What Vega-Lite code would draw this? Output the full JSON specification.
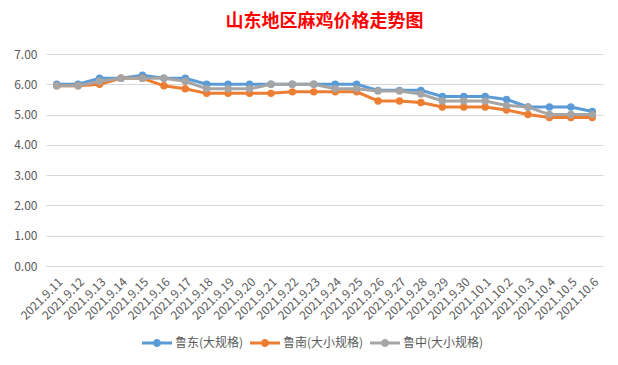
{
  "$schema": "https://vega.github.io/schema/vega-lite/v6.json",
  "width": 557,
  "height": 212,
  "autosize": "none",
  "padding": {"left": 46, "top": 54, "right": 15, "bottom": 99},
  "background": "white",
  "title": {
    "text": "山东地区麻鸡价格走势图",
    "color": "#FF0000",
    "font": "Noto Sans CJK SC",
    "fontSize": 18,
    "fontWeight": "bold",
    "anchor": "middle",
    "offset": 17
  },
  "config": {
    "view": {"stroke": null},
    "axis": {"labelFont": "Noto Sans CJK SC", "labelColor": "#595959", "labelFontSize": 12}
  },
  "data": {
    "values": [
      {"date": "2021.9.11", "series": "鲁东(大规格)", "price": 6.0},
      {"date": "2021.9.12", "series": "鲁东(大规格)", "price": 6.0},
      {"date": "2021.9.13", "series": "鲁东(大规格)", "price": 6.2},
      {"date": "2021.9.14", "series": "鲁东(大规格)", "price": 6.2},
      {"date": "2021.9.15", "series": "鲁东(大规格)", "price": 6.3},
      {"date": "2021.9.16", "series": "鲁东(大规格)", "price": 6.2},
      {"date": "2021.9.17", "series": "鲁东(大规格)", "price": 6.2},
      {"date": "2021.9.18", "series": "鲁东(大规格)", "price": 6.0},
      {"date": "2021.9.19", "series": "鲁东(大规格)", "price": 6.0},
      {"date": "2021.9.20", "series": "鲁东(大规格)", "price": 6.0},
      {"date": "2021.9.21", "series": "鲁东(大规格)", "price": 6.0},
      {"date": "2021.9.22", "series": "鲁东(大规格)", "price": 6.0},
      {"date": "2021.9.23", "series": "鲁东(大规格)", "price": 6.0},
      {"date": "2021.9.24", "series": "鲁东(大规格)", "price": 6.0},
      {"date": "2021.9.25", "series": "鲁东(大规格)", "price": 6.0},
      {"date": "2021.9.26", "series": "鲁东(大规格)", "price": 5.8},
      {"date": "2021.9.27", "series": "鲁东(大规格)", "price": 5.8},
      {"date": "2021.9.28", "series": "鲁东(大规格)", "price": 5.8},
      {"date": "2021.9.29", "series": "鲁东(大规格)", "price": 5.6},
      {"date": "2021.9.30", "series": "鲁东(大规格)", "price": 5.6},
      {"date": "2021.10.1", "series": "鲁东(大规格)", "price": 5.6},
      {"date": "2021.10.2", "series": "鲁东(大规格)", "price": 5.5},
      {"date": "2021.10.3", "series": "鲁东(大规格)", "price": 5.25},
      {"date": "2021.10.4", "series": "鲁东(大规格)", "price": 5.25},
      {"date": "2021.10.5", "series": "鲁东(大规格)", "price": 5.25},
      {"date": "2021.10.6", "series": "鲁东(大规格)", "price": 5.1},
      {"date": "2021.9.11", "series": "鲁南(大小规格)", "price": 5.95},
      {"date": "2021.9.12", "series": "鲁南(大小规格)", "price": 5.95},
      {"date": "2021.9.13", "series": "鲁南(大小规格)", "price": 6.0},
      {"date": "2021.9.14", "series": "鲁南(大小规格)", "price": 6.2},
      {"date": "2021.9.15", "series": "鲁南(大小规格)", "price": 6.2},
      {"date": "2021.9.16", "series": "鲁南(大小规格)", "price": 5.95},
      {"date": "2021.9.17", "series": "鲁南(大小规格)", "price": 5.85},
      {"date": "2021.9.18", "series": "鲁南(大小规格)", "price": 5.7},
      {"date": "2021.9.19", "series": "鲁南(大小规格)", "price": 5.7},
      {"date": "2021.9.20", "series": "鲁南(大小规格)", "price": 5.7},
      {"date": "2021.9.21", "series": "鲁南(大小规格)", "price": 5.7},
      {"date": "2021.9.22", "series": "鲁南(大小规格)", "price": 5.75},
      {"date": "2021.9.23", "series": "鲁南(大小规格)", "price": 5.75},
      {"date": "2021.9.24", "series": "鲁南(大小规格)", "price": 5.75},
      {"date": "2021.9.25", "series": "鲁南(大小规格)", "price": 5.75},
      {"date": "2021.9.26", "series": "鲁南(大小规格)", "price": 5.45},
      {"date": "2021.9.27", "series": "鲁南(大小规格)", "price": 5.45},
      {"date": "2021.9.28", "series": "鲁南(大小规格)", "price": 5.4},
      {"date": "2021.9.29", "series": "鲁南(大小规格)", "price": 5.25},
      {"date": "2021.9.30", "series": "鲁南(大小规格)", "price": 5.25},
      {"date": "2021.10.1", "series": "鲁南(大小规格)", "price": 5.25},
      {"date": "2021.10.2", "series": "鲁南(大小规格)", "price": 5.15},
      {"date": "2021.10.3", "series": "鲁南(大小规格)", "price": 5.0},
      {"date": "2021.10.4", "series": "鲁南(大小规格)", "price": 4.9},
      {"date": "2021.10.5", "series": "鲁南(大小规格)", "price": 4.9},
      {"date": "2021.10.6", "series": "鲁南(大小规格)", "price": 4.9},
      {"date": "2021.9.11", "series": "鲁中(大小规格)", "price": 5.95},
      {"date": "2021.9.12", "series": "鲁中(大小规格)", "price": 5.95},
      {"date": "2021.9.13", "series": "鲁中(大小规格)", "price": 6.1},
      {"date": "2021.9.14", "series": "鲁中(大小规格)", "price": 6.2},
      {"date": "2021.9.15", "series": "鲁中(大小规格)", "price": 6.2},
      {"date": "2021.9.16", "series": "鲁中(大小规格)", "price": 6.2},
      {"date": "2021.9.17", "series": "鲁中(大小规格)", "price": 6.1},
      {"date": "2021.9.18", "series": "鲁中(大小规格)", "price": 5.85},
      {"date": "2021.9.19", "series": "鲁中(大小规格)", "price": 5.85},
      {"date": "2021.9.20", "series": "鲁中(大小规格)", "price": 5.85},
      {"date": "2021.9.21", "series": "鲁中(大小规格)", "price": 6.0},
      {"date": "2021.9.22", "series": "鲁中(大小规格)", "price": 6.0},
      {"date": "2021.9.23", "series": "鲁中(大小规格)", "price": 6.0},
      {"date": "2021.9.24", "series": "鲁中(大小规格)", "price": 5.85},
      {"date": "2021.9.25", "series": "鲁中(大小规格)", "price": 5.85},
      {"date": "2021.9.26", "series": "鲁中(大小规格)", "price": 5.78},
      {"date": "2021.9.27", "series": "鲁中(大小规格)", "price": 5.78},
      {"date": "2021.9.28", "series": "鲁中(大小规格)", "price": 5.68},
      {"date": "2021.9.29", "series": "鲁中(大小规格)", "price": 5.45},
      {"date": "2021.9.30", "series": "鲁中(大小规格)", "price": 5.45},
      {"date": "2021.10.1", "series": "鲁中(大小规格)", "price": 5.45},
      {"date": "2021.10.2", "series": "鲁中(大小规格)", "price": 5.3},
      {"date": "2021.10.3", "series": "鲁中(大小规格)", "price": 5.25},
      {"date": "2021.10.4", "series": "鲁中(大小规格)", "price": 5.0},
      {"date": "2021.10.5", "series": "鲁中(大小规格)", "price": 5.0},
      {"date": "2021.10.6", "series": "鲁中(大小规格)", "price": 5.0}
    ]
  },
  "encoding": {
    "x": {
      "field": "date", "type": "ordinal", "sort": null,
      "scale": {"type": "point", "padding": 0.5},
      "axis": {"title": null, "labelAngle": -45, "ticks": false, "domain": false, "grid": false, "labelPadding": 10}
    },
    "y": {
      "field": "price", "type": "quantitative",
      "scale": {"domain": [0, 7]},
      "axis": {"title": null, "values": [0, 1, 2, 3, 4, 5, 6, 7], "format": ".2f", "ticks": false, "domain": false, "gridColor": "#d9d9d9", "labelPadding": 9}
    },
    "color": {
      "field": "series", "type": "nominal",
      "sort": ["鲁东(大规格)", "鲁南(大小规格)", "鲁中(大小规格)"],
      "scale": {"domain": ["鲁东(大规格)", "鲁南(大小规格)", "鲁中(大小规格)"], "range": ["#5B9BD5", "#ED7D31", "#A5A5A5"]},
      "legend": {
        "title": null, "orient": "none", "direction": "horizontal",
        "legendX": 96, "legendY": 274,
        "labelFont": "Noto Sans CJK SC", "labelFontSize": 12, "labelColor": "#595959",
        "symbolType": "M-1,-0.1L1,-0.1L1,0.1L-1,0.1Z M-0.27,0A0.27,0.27 0 1,1 0.27,0A0.27,0.27 0 1,1 -0.27,0Z",
        "symbolSize": 900, "symbolStrokeWidth": 0, "symbolOpacity": 1, "columnPadding": 6, "labelOffset": 3
      }
    }
  },
  "layer": [
    {"mark": {"type": "line", "strokeWidth": 3}},
    {"mark": {"type": "circle", "size": 55, "opacity": 1}}
  ]
}
